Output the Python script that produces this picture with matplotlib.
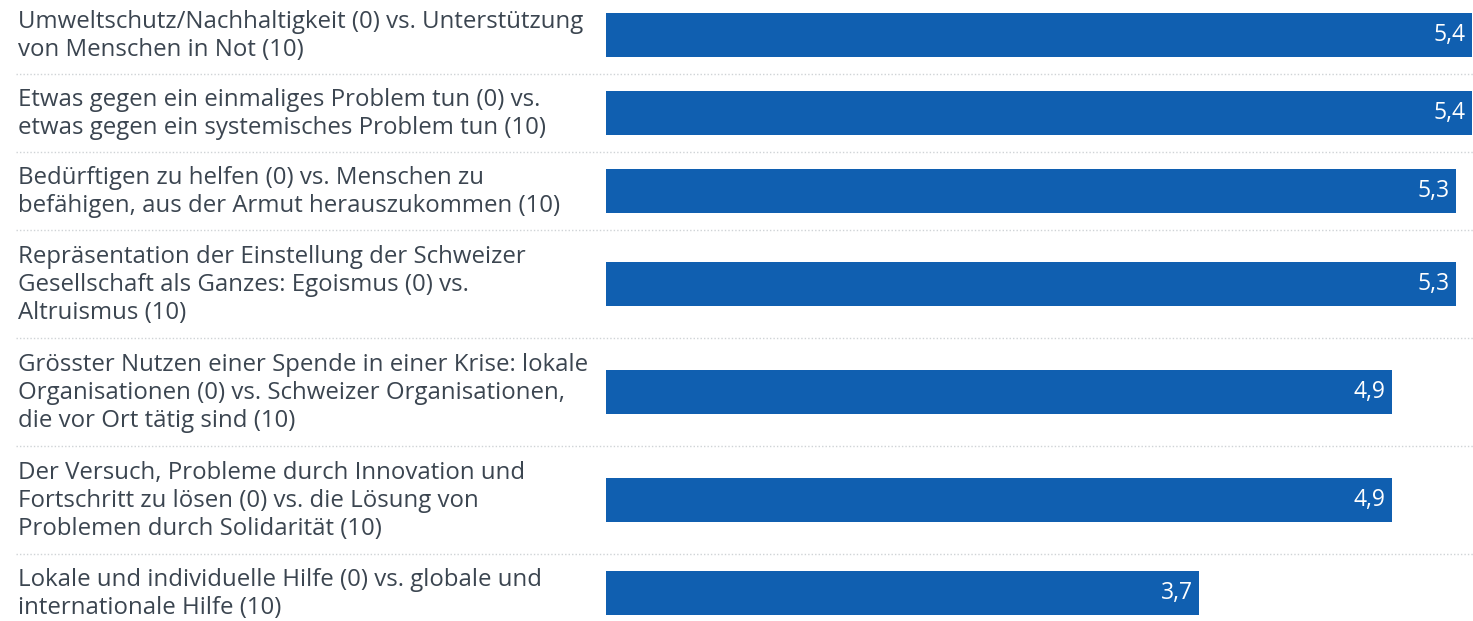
import matplotlib
matplotlib.use("Agg")
import matplotlib.pyplot as plt
from matplotlib.transforms import blended_transform_factory

plt.rcParams["font.family"] = ["Open Sans", "DejaVu Sans"]

labels = [
    "Umweltschutz/Nachhaltigkeit (0) vs. Unterstützung\nvon Menschen in Not (10)",
    "Etwas gegen ein einmaliges Problem tun (0) vs.\netwas gegen ein systemisches Problem tun (10)",
    "Bedürftigen zu helfen (0) vs. Menschen zu\nbefähigen, aus der Armut herauszukommen (10)",
    "Repräsentation der Einstellung der Schweizer\nGesellschaft als Ganzes: Egoismus (0) vs.\nAltruismus (10)",
    "Grösster Nutzen einer Spende in einer Krise: lokale\nOrganisationen (0) vs. Schweizer Organisationen,\ndie vor Ort tätig sind (10)",
    "Der Versuch, Probleme durch Innovation und\nFortschritt zu lösen (0) vs. die Lösung von\nProblemen durch Solidarität (10)",
    "Lokale und individuelle Hilfe (0) vs. globale und\ninternationale Hilfe (10)",
]
values = [5.4, 5.4, 5.3, 5.3, 4.9, 4.9, 3.7]

W, H, DPI = 1473, 621, 100
BAR_COLOR = "#105fb0"
TEXT_COLOR = "#3b4550"
GRID_COLOR = "#cfd3d6"

fig = plt.figure(figsize=(W / DPI, H / DPI), dpi=DPI)
x0 = 606 / W
ax = fig.add_axes([x0, 0, 1 - x0, 1])
ax.set_xlim(0, (W - 606) / 160.4)

# Row heights grow with the number of label lines
line_h = 30
pad = 18
heights = [lab.count("\n") * line_h + line_h + pad for lab in labels]
tops = []
y = -4
for h in heights:
    tops.append(y)
    y += h
ax.set_ylim(H, 0)
centers = [t + h / 2 for t, h in zip(tops, heights)]

ax.barh(centers, values, height=44, color=BAR_COLOR, left=0)

trans = blended_transform_factory(fig.transFigure, ax.transData)
for c, lab, v in zip(centers, labels, values):
    fig.text(18 / W, c + 1, lab, transform=trans, ha="left", va="center",
             fontsize=17.3, color=TEXT_COLOR, linespacing=1.24)
    ax.annotate(f"{v:.1f}".replace(".", ","), xy=(v, c), xytext=(-5, 0),
                textcoords="offset points", ha="right", va="center",
                fontsize=16.5, color="white")
for t in tops[1:]:
    ax.plot([16 / W, 1], [t, t], transform=trans,
            color=GRID_COLOR, lw=1, ls=(0, (1, 1.5)), clip_on=False)

ax.axis("off")

fig.savefig("out.png", dpi=DPI)
